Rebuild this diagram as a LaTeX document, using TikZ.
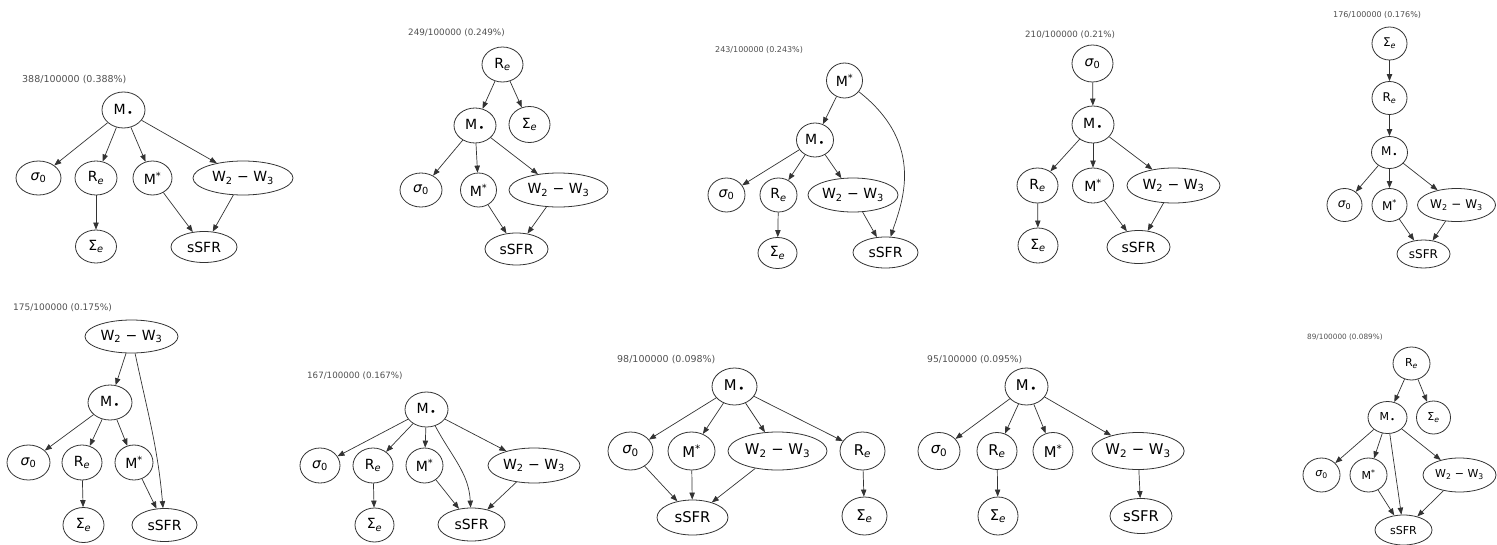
\documentclass[tikz,border=0pt]{standalone}
\usepackage{fontspec}
\setmainfont{DejaVu Sans}
\usetikzlibrary{shapes.geometric,arrows.meta}

\definecolor{linec}{HTML}{333333}
\definecolor{capc}{HTML}{505050}

% node labels
\newcommand{\Mbh}{M\textsubscript{\,•}}
\newcommand{\Mst}{M\textsuperscript{*}}
\newcommand{\sig}{{\itshape σ}\textsubscript{0}}
\newcommand{\Ree}{R\textsubscript{\itshape e}}
\newcommand{\Sige}{Σ\textsubscript{\itshape e}}
\newcommand{\Wcol}{W\textsubscript{2} − W\textsubscript{3}}
\newcommand{\ssfr}{sSFR}

\tikzset{
  gn/.style={ellipse, draw=linec, line width=0.8pt, inner sep=0pt},
  sz/.style 2 args={minimum width=#1pt, minimum height=#2pt},
  fbig/.style={font=\fontsize{14}{16}\selectfont},
  fhuge/.style={font=\fontsize{14.8}{17}\selectfont},
  fsmall/.style={font=\fontsize{12}{14}\selectfont},
  ftiny/.style={font=\fontsize{11}{13}\selectfont},
  capt/.style={anchor=west, inner sep=0pt, text=capc},
  ed/.style={draw=linec, line width=0.7pt, -{Triangle[length=7pt,width=5.4pt]}},
}

\begin{document}
\begin{tikzpicture}[x=1pt, y=-1pt]
\useasboundingbox (0,0) rectangle (1497,544);

% ---- graph 1 ----
\node[capt, font=\fontsize{9.5}{11}\selectfont] (a-lbl) at (22,80) {388/100000 (0.388\%)};
\begin{scope}[every node/.append style={fbig}]
\node[gn, sz={43}{36}] (a-M) at (123.5,110) {\Mbh};
\node[gn, sz={45}{34}] (a-s) at (38.5,178) {\sig};
\node[gn, sz={42}{34}] (a-R) at (96,178) {\Ree};
\node[gn, sz={39}{34}] (a-Ms) at (152.5,178) {\Mst};
\node[gn, sz={100}{34}] (a-W) at (243,178) {\Wcol};
\node[gn, sz={41}{33}] (a-S) at (96,246.5) {\Sige};
\node[gn, sz={66}{31}] (a-F) at (204,247) {\ssfr};
\end{scope}
\draw[ed] (a-M) -- (a-s);
\draw[ed] (a-M) -- (a-R);
\draw[ed] (a-M) -- (a-Ms);
\draw[ed] (a-M) -- (a-W);
\draw[ed] (a-R) -- (a-S);
\draw[ed] (a-Ms) -- (a-F);
\draw[ed] (a-W) -- (a-F);

% ---- graph 2 ----
\node[capt, font=\fontsize{8.8}{10}\selectfont] (b-lbl) at (408,33) {249/100000 (0.249\%)};
\begin{scope}[every node/.append style={fbig}]
\node[gn, sz={41}{35}] (b-R) at (502.5,64.5) {\Ree};
\node[gn, sz={42}{35}] (b-M) at (475,125.5) {\Mbh};
\node[gn, sz={41}{36}] (b-S) at (529.5,124.5) {\Sige};
\node[gn, sz={42}{34}] (b-s) at (421,190) {\sig};
\node[gn, sz={36}{34}] (b-Ms) at (478.5,190) {\Mst};
\node[gn, sz={99}{34}] (b-W) at (558.5,190) {\Wcol};
\node[gn, sz={63}{32}] (b-F) at (516.5,249) {\ssfr};
\end{scope}
\draw[ed] (b-R) -- (b-M);
\draw[ed] (b-R) -- (b-S);
\draw[ed] (b-M) -- (b-s);
\draw[ed] (b-M) -- (b-Ms);
\draw[ed] (b-M) -- (b-W);
\draw[ed] (b-Ms) -- (b-F);
\draw[ed] (b-W) -- (b-F);

% ---- graph 3 ----
\node[capt, font=\fontsize{8}{9}\selectfont] (c-lbl) at (715,50) {243/100000 (0.243\%)};
\begin{scope}[every node/.append style={fbig}]
\node[gn, sz={36}{35}] (c-Ms) at (844.5,80.5) {\Mst};
\node[gn, sz={37}{34}] (c-M) at (815,140) {\Mbh};
\node[gn, sz={37}{34}] (c-s) at (726.5,195) {\sig};
\node[gn, sz={37}{34}] (c-R) at (778.5,195) {\Ree};
\node[gn, sz={90}{34}] (c-W) at (853,195) {\Wcol};
\node[gn, sz={39}{31}] (c-S) at (777.5,253) {\Sige};
\node[gn, sz={65}{31}] (c-F) at (885.5,252.5) {\ssfr};
\end{scope}
\draw[ed] (c-Ms) -- (c-M);
\draw[ed] (c-Ms) .. controls (927,145) and (901,205) .. (c-F);
\draw[ed] (c-M) -- (c-s);
\draw[ed] (c-M) -- (c-R);
\draw[ed] (c-M) -- (c-W);
\draw[ed] (c-R) -- (c-S);
\draw[ed] (c-W) -- (c-F);

% ---- graph 4 ----
\node[capt, font=\fontsize{8.7}{10}\selectfont] (d-lbl) at (1025,35) {210/100000 (0.21\%)};
\begin{scope}[every node/.append style={fbig}]
\node[gn, sz={41}{37}] (d-s) at (1092.5,63.5) {\sig};
\node[gn, sz={42}{37}] (d-M) at (1093,124.5) {\Mbh};
\node[gn, sz={41}{35}] (d-R) at (1037.5,185.5) {\Ree};
\node[gn, sz={41}{35}] (d-Ms) at (1093,185.5) {\Mst};
\node[gn, sz={93}{35}] (d-W) at (1173.5,185.5) {\Wcol};
\node[gn, sz={40}{35}] (d-S) at (1038,245.5) {\Sige};
\node[gn, sz={63}{33}] (d-F) at (1138.5,247) {\ssfr};
\end{scope}
\draw[ed] (d-s) -- (d-M);
\draw[ed] (d-M) -- (d-R);
\draw[ed] (d-M) -- (d-Ms);
\draw[ed] (d-M) -- (d-W);
\draw[ed] (d-R) -- (d-S);
\draw[ed] (d-Ms) -- (d-F);
\draw[ed] (d-W) -- (d-F);

% ---- graph 5 ----
\node[capt, font=\fontsize{8}{9}\selectfont] (e-lbl) at (1333,15) {176/100000 (0.176\%)};
\begin{scope}[every node/.append style={fsmall}]
\node[gn, sz={35}{33}] (e-S) at (1389.5,43.5) {\Sige};
\node[gn, sz={35}{33}] (e-R) at (1389.5,98) {\Ree};
\node[gn, sz={36}{32}] (e-M) at (1389.5,152.5) {\Mbh};
\node[gn, sz={35}{33}] (e-s) at (1344.5,205) {\sig};
\node[gn, sz={35}{33}] (e-Ms) at (1389.5,205) {\Mst};
\node[gn, sz={78}{33}] (e-W) at (1456.5,205) {\Wcol};
\node[gn, sz={53}{28}] (e-F) at (1423.5,254) {\ssfr};
\end{scope}
\draw[ed] (e-S) -- (e-R);
\draw[ed] (e-R) -- (e-M);
\draw[ed] (e-M) -- (e-s);
\draw[ed] (e-M) -- (e-Ms);
\draw[ed] (e-M) -- (e-W);
\draw[ed] (e-Ms) -- (e-F);
\draw[ed] (e-W) -- (e-F);

% ---- graph 6 ----
\node[capt, font=\fontsize{9}{10}\selectfont] (f-lbl) at (13,308) {175/100000 (0.175\%)};
\begin{scope}[every node/.append style={fbig}]
\node[gn, sz={93}{33}] (f-W) at (131.5,336.5) {\Wcol};
\node[gn, sz={44}{35}] (f-M) at (110,402.5) {\Mbh};
\node[gn, sz={43}{35}] (f-s) at (28.5,462.5) {\sig};
\node[gn, sz={40}{35}] (f-R) at (82,462.5) {\Ree};
\node[gn, sz={38}{35}] (f-Ms) at (134,462.5) {\Mst};
\node[gn, sz={41}{35}] (f-S) at (83.5,525) {\Sige};
\node[gn, sz={65}{33}] (f-F) at (164.5,525) {\ssfr};
\end{scope}
\draw[ed] (f-W) -- (f-M);
\draw[ed] (f-W) to[out=-78, in=95] (f-F);
\draw[ed] (f-M) -- (f-s);
\draw[ed] (f-M) -- (f-R);
\draw[ed] (f-M) -- (f-Ms);
\draw[ed] (f-R) -- (f-S);
\draw[ed] (f-Ms) -- (f-F);

% ---- graph 7 ----
\node[capt, font=\fontsize{8.7}{10}\selectfont] (g-lbl) at (307,376) {167/100000 (0.167\%)};
\begin{scope}[every node/.append style={fbig}]
\node[gn, sz={43}{35}] (g-M) at (426.5,409.5) {\Mbh};
\node[gn, sz={40}{35}] (g-s) at (320,465.5) {\sig};
\node[gn, sz={40}{35}] (g-R) at (373,465.5) {\Ree};
\node[gn, sz={37}{35}] (g-Ms) at (424.5,465.5) {\Mst};
\node[gn, sz={92}{35}] (g-W) at (534,465.5) {\Wcol};
\node[gn, sz={39}{34}] (g-S) at (374.5,525) {\Sige};
\node[gn, sz={67}{33}] (g-F) at (471.5,524.5) {\ssfr};
\end{scope}
\draw[ed] (g-M) -- (g-s);
\draw[ed] (g-M) -- (g-R);
\draw[ed] (g-M) -- (g-Ms);
\draw[ed] (g-M) to[out=-62, in=93] (g-F);
\draw[ed] (g-M) -- (g-W);
\draw[ed] (g-R) -- (g-S);
\draw[ed] (g-Ms) -- (g-F);
\draw[ed] (g-W) -- (g-F);

% ---- graph 8 ----
\node[capt, font=\fontsize{9.5}{11}\selectfont] (h-lbl) at (617,360) {98/100000 (0.098\%)};
\begin{scope}[every node/.append style={fhuge}]
\node[gn, sz={45}{37}] (h-M) at (734.5,386.5) {\Mbh};
\node[gn, sz={45}{38}] (h-s) at (630.5,451) {\sig};
\node[gn, sz={47}{38}] (h-Ms) at (691.5,451) {\Mst};
\node[gn, sz={99}{38}] (h-W) at (777.5,451) {\Wcol};
\node[gn, sz={45}{38}] (h-R) at (862.5,451) {\Ree};
\node[gn, sz={71}{35}] (h-F) at (692.5,517.5) {\ssfr};
\node[gn, sz={45}{38}] (h-S) at (864.5,516) {\Sige};
\end{scope}
\draw[ed] (h-M) -- (h-s);
\draw[ed] (h-M) -- (h-Ms);
\draw[ed] (h-M) -- (h-W);
\draw[ed] (h-M) -- (h-R);
\draw[ed] (h-s) -- (h-F);
\draw[ed] (h-Ms) -- (h-F);
\draw[ed] (h-W) -- (h-F);
\draw[ed] (h-R) -- (h-S);

% ---- graph 9 ----
\node[capt, font=\fontsize{9.2}{11}\selectfont] (i-lbl) at (927,360) {95/100000 (0.095\%)};
\begin{scope}[every node/.append style={fhuge}]
\node[gn, sz={43}{37}] (i-M) at (1026.5,386.5) {\Mbh};
\node[gn, sz={42}{37}] (i-s) at (939,451) {\sig};
\node[gn, sz={40}{37}] (i-R) at (997,451) {\Ree};
\node[gn, sz={40}{37}] (i-Ms) at (1053,451) {\Mst};
\node[gn, sz={92}{37}] (i-W) at (1138,451) {\Wcol};
\node[gn, sz={40}{38}] (i-S) at (998,516) {\Sige};
\node[gn, sz={62}{35}] (i-F) at (1141,516) {\ssfr};
\end{scope}
\draw[ed] (i-M) -- (i-s);
\draw[ed] (i-M) -- (i-R);
\draw[ed] (i-M) -- (i-Ms);
\draw[ed] (i-M) -- (i-W);
\draw[ed] (i-R) -- (i-S);
\draw[ed] (i-W) -- (i-F);

% ---- graph 10 ----
\node[capt, font=\fontsize{7.3}{9}\selectfont] (j-lbl) at (1307,337) {89/100000 (0.089\%)};
\begin{scope}[every node/.append style={ftiny}]
\node[gn, sz={37}{33}] (j-R) at (1411.5,363.5) {\Ree};
\node[gn, sz={39}{32}] (j-M) at (1387.5,417.5) {\Mbh};
\node[gn, sz={34}{33}] (j-S) at (1433.5,417.5) {\Sige};
\node[gn, sz={37}{34}] (j-s) at (1321.5,475) {\sig};
\node[gn, sz={37}{34}] (j-Ms) at (1368.5,475) {\Mst};
\node[gn, sz={73}{34}] (j-W) at (1459.5,475) {\Wcol};
\node[gn, sz={57}{30}] (j-F) at (1403.5,530) {\ssfr};
\end{scope}
\draw[ed] (j-R) -- (j-M);
\draw[ed] (j-R) -- (j-S);
\draw[ed] (j-M) -- (j-s);
\draw[ed] (j-M) -- (j-Ms);
\draw[ed] (j-M) to[out=-82, in=98] (j-F);
\draw[ed] (j-M) -- (j-W);
\draw[ed] (j-Ms) -- (j-F);
\draw[ed] (j-W) -- (j-F);
\end{tikzpicture}
\end{document}
